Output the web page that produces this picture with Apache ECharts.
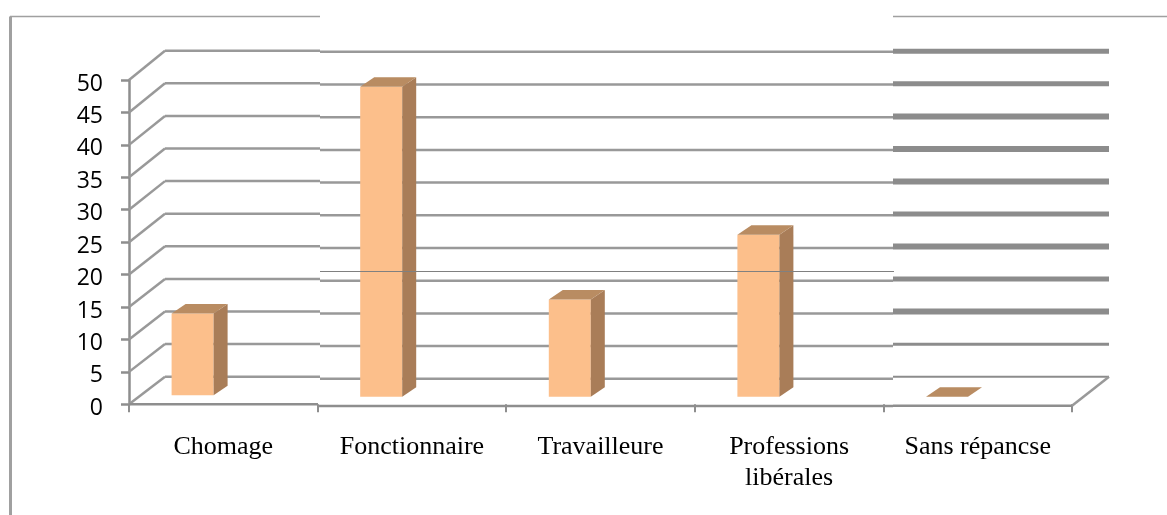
<!DOCTYPE html>
<html>
<head>
<meta charset="utf-8">
<style>html,body{margin:0;padding:0;background:#fff}#c{width:1167px;height:515px}</style>
<script src="https://cdn.jsdelivr.net/npm/echarts@6/dist/echarts.min.js"></script>
</head>
<body>
<div id="c"></div>
<script>
const categories = ['Chomage', 'Fonctionnaire', 'Travailleure', 'Professions\nlibérales', 'Sans répancse'];
const values = [12.6, 47.8, 15, 25, 0];
const yTicks = [0, 5, 10, 15, 20, 25, 30, 35, 40, 45, 50];
const rightLineWidths = [2, 3, 6, 5, 6, 5, 6, 6, 6, 5, 5];

const GREY = '#8e8e8e';
const BAR_WIDTH = 42, BAR_OFFSET = -30.7, BAR_LIFT = -7.5;
const BAR_DEPTH_X = 14, BAR_DEPTH_Y = -9.5;
const tiles = [
  {x0: 165, x1: 320, shift: -27.6, stretch: 0.0052, base: 0,   baseX0: 129, baseX1: 318},
  {x0: 320, x1: 893, shift: -25.5, stretch: 0.0083, base: 1.6, baseX0: 318, baseX1: 893},
  {x0: 893, x1: 1109, shift: -27.6, stretch: 0.0034, base: 1.4, baseX0: 893, baseX1: 1072}
];

function seg(x1, y1, x2, y2, w, color) {
  return {type: 'line', shape: {x1, y1, x2, y2}, style: {stroke: color || GREY, lineWidth: w, fill: null}};
}
function poly(points, color) {
  return {type: 'polygon', shape: {points}, style: {fill: color}};
}

function renderWall(params, api) {
  const v = api.value(1), idx = params.dataIndex;
  const front = api.coord([0, v])[1], zero = api.coord([0, 0])[1];
  const left = params.coordSys.x, right = left + params.coordSys.width;
  const kids = [];
  const backY = t => front + t.shift + (front - zero) * t.stretch;
  tiles.forEach((t, i) => {
    const w = i === 2 ? rightLineWidths[idx] : 2.5;
    kids.push(seg(t.x0, backY(t), t.x1, backY(t), w, i === 2 ? '#8c8c8c' : '#999999'));
  });
  kids.push(seg(left, front, tiles[0].x0, backY(tiles[0]), 2.5, '#999999'));
  if (v === 0) {
    tiles.forEach(t => kids.push(seg(t.baseX0, zero + t.base, t.baseX1, zero + t.base, 2.5, GREY)));
    kids.push(seg(right, zero + tiles[2].base, tiles[2].x1, backY(tiles[2]), 2.5, '#999999'));
  }
  return {type: 'group', children: kids};
}

function renderBar(params, api) {
  const i = api.value(0), v = api.value(1);
  const c = api.coord([i, v]), z = api.coord([i, 0]);
  const shift = i === 0 ? -1.5 : 0;
  const x0 = c[0] + BAR_OFFSET - BAR_WIDTH / 2, x1 = x0 + BAR_WIDTH;
  const yB = z[1] + BAR_LIFT + shift, yT = yB - (z[1] - c[1]);
  const dx = BAR_DEPTH_X, dy = BAR_DEPTH_Y;
  const kids = [
    poly([[x1, yB], [x1 + dx, yB + dy], [x1 + dx, yT + dy], [x1, yT]], '#a97d58'),
    poly([[x0, yT], [x1, yT], [x1 + dx, yT + dy], [x0 + dx, yT + dy]], '#b98c62')
  ];
  if (v > 0) kids.unshift({type: 'rect', shape: {x: x0, y: yT, width: BAR_WIDTH, height: yB - yT}, style: {fill: '#fcbf8b'}});
  return {type: 'group', children: kids};
}

const chart = echarts.init(document.getElementById('c'), null, {renderer: 'canvas'});
chart.setOption({
  animation: false,
  backgroundColor: '#fff',
  grid: {left: 129, width: 943, top: 80, height: 324.3, containLabel: false},
  xAxis: {
    type: 'category', data: categories, boundaryGap: true,
    axisLine: {show: false},
    axisTick: {show: true, length: 8, alignWithLabel: false, lineStyle: {color: GREY, width: 2}},
    axisLabel: {fontFamily: 'Liberation Serif', fontSize: 26, color: '#000', margin: 27, lineHeight: 31, interval: 0}
  },
  yAxis: {
    type: 'value', min: 0, max: 50, interval: 5,
    axisLine: {show: true, lineStyle: {color: GREY, width: 2.5}},
    axisTick: {show: true, length: 8, lineStyle: {color: GREY, width: 2.5}},
    splitLine: {show: false},
    axisLabel: {fontFamily: 'Open Sans', fontSize: 23, color: '#000', margin: 26, verticalAlign: 'top', lineHeight: 8}
  },
  graphic: [
    {type: 'line', silent: true, shape: {x1: 10.5, y1: 16.5, x2: 10.5, y2: 515}, style: {stroke: '#a0a0a0', lineWidth: 3}},
    {type: 'line', silent: true, shape: {x1: 10, y1: 16.5, x2: 320, y2: 16.5}, style: {stroke: '#a0a0a0', lineWidth: 1.5}},
    {type: 'line', silent: true, shape: {x1: 893, y1: 16.5, x2: 1167, y2: 16.5}, style: {stroke: '#a0a0a0', lineWidth: 1.5}},
    {type: 'line', silent: true, z: 100, shape: {x1: 320, y1: 271.5, x2: 894, y2: 271.5}, style: {stroke: '#808080', lineWidth: 1}}
  ],
  series: [
    {type: 'custom', name: 'walls', clip: false, silent: true, z: 1,
     data: yTicks.map(v => [0, v]), encode: {x: 0, y: 1}, renderItem: renderWall},
    {type: 'custom', name: 'bars', clip: false, silent: true, z: 2,
     data: values.map((v, i) => [i, v]), encode: {x: 0, y: 1}, renderItem: renderBar}
  ]
});
</script>
</body>
</html>
